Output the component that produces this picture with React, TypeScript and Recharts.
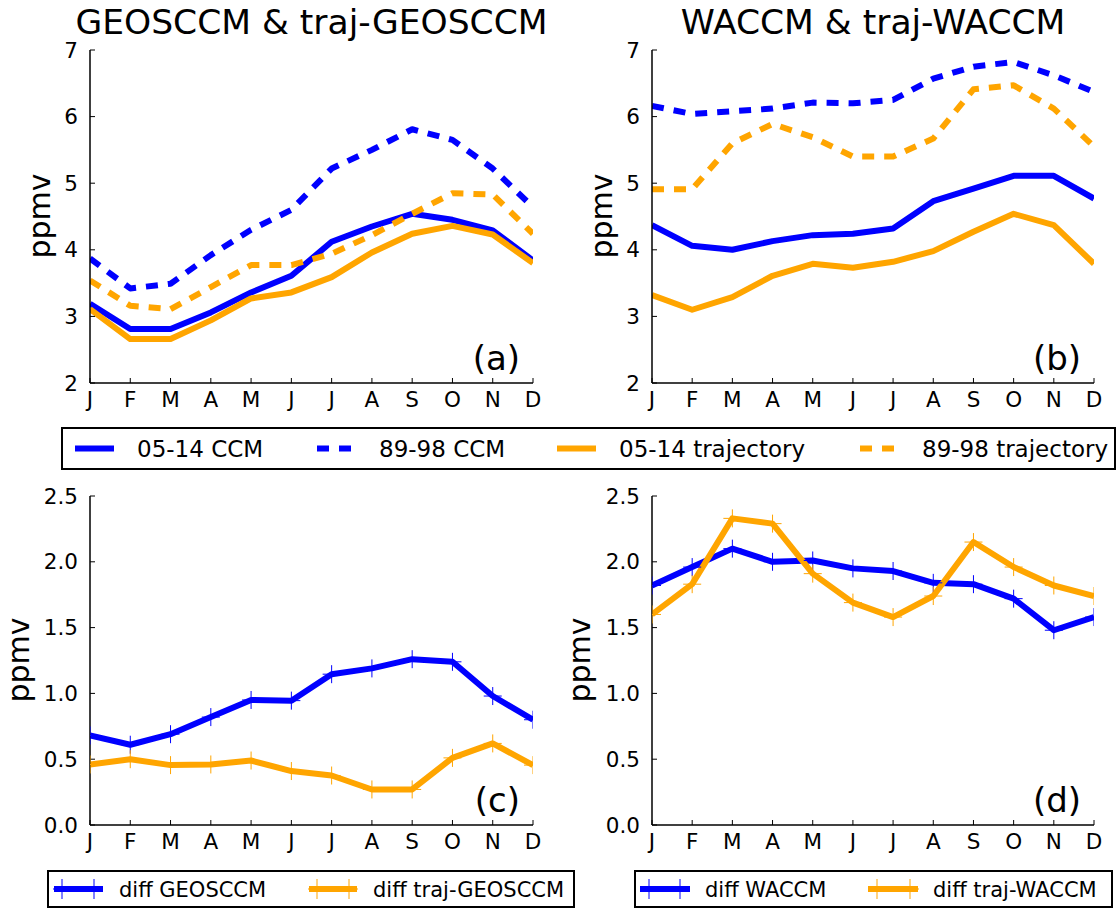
import React from "react";
import { LineChart, Line, XAxis, YAxis } from "recharts";

const FONT = '"DejaVu Sans", sans-serif';
const BLUE = "#0000ff";
const ORANGE = "#ffa500";
const DASH = "12 10";

const MONTHS = ["J", "F", "M", "A", "M", "J", "J", "A", "S", "O", "N", "D"];

// (a) GEOSCCM & traj-GEOSCCM
const geosCcm0514 = [3.19, 2.81, 2.81, 3.06, 3.36, 3.61, 4.12, 4.35, 4.54, 4.45, 4.29, 3.84];
const geosCcm8998 = [3.87, 3.42, 3.49, 3.92, 4.3, 4.6, 5.22, 5.5, 5.81, 5.65, 5.22, 4.64];
const geosTraj0514 = [3.11, 2.66, 2.66, 2.94, 3.27, 3.36, 3.59, 3.96, 4.24, 4.36, 4.23, 3.8];
const geosTraj8998 = [3.54, 3.16, 3.11, 3.44, 3.77, 3.77, 3.94, 4.22, 4.54, 4.85, 4.83, 4.24];

// (b) WACCM & traj-WACCM
const waccmCcm0514 = [4.37, 4.06, 4.0, 4.13, 4.22, 4.24, 4.32, 4.73, 4.92, 5.11, 5.11, 4.77];
const waccmCcm8998 = [6.16, 6.04, 6.08, 6.12, 6.21, 6.2, 6.25, 6.57, 6.75, 6.82, 6.62, 6.37];
const waccmTraj0514 = [3.32, 3.1, 3.29, 3.61, 3.79, 3.73, 3.82, 3.98, 4.27, 4.54, 4.37, 3.79];
const waccmTraj8998 = [4.91, 4.91, 5.6, 5.89, 5.69, 5.4, 5.4, 5.67, 6.41, 6.47, 6.12, 5.55];

// (c) and (d) differences
const diffGeos = [0.68, 0.61, 0.69, 0.82, 0.95, 0.945, 1.146, 1.19, 1.26, 1.24, 0.98, 0.8];
const diffTrajGeos = [0.46, 0.5, 0.455, 0.46, 0.49, 0.41, 0.376, 0.27, 0.27, 0.51, 0.62, 0.455];
const diffWaccm = [1.82, 1.96, 2.1, 2.0, 2.01, 1.95, 1.93, 1.84, 1.83, 1.72, 1.48, 1.58];
const diffTrajWaccm = [1.6, 1.83, 2.33, 2.29, 1.91, 1.69, 1.58, 1.74, 2.15, 1.96, 1.82, 1.74];

const MONTH_TICKS = MONTHS.map((_, i) => i);
const CONC_TICKS = [2, 3, 4, 5, 6, 7];
const DIFF_TICKS = [0, 0.5, 1, 1.5, 2, 2.5];

type Series = {
  name: string;
  values: number[];
  color: string;
  dashed?: boolean;
  plus?: boolean;
};

const makeRows = (series: Series[]) =>
  MONTHS.map((m, i) => {
    const row: Record<string, number | string> = { i, month: m };
    series.forEach((s) => {
      row[s.name] = s.values[i];
    });
    return row;
  });

const plusDot = (color: string) => (props: any) => {
  const { cx, cy, index } = props;
  if (cx == null || cy == null) return <g key={`p-${index}`} />;
  return (
    <g key={`p-${index}`}>
      <line x1={cx - 9} x2={cx + 9} y1={cy} y2={cy} stroke={color} strokeWidth={1} />
      <line x1={cx} x2={cx} y1={cy - 9} y2={cy + 9} stroke={color} strokeWidth={1} />
    </g>
  );
};

const tickStyle = { fill: "#000", fontSize: 21.5, fontFamily: FONT };
const frame = { stroke: "#000", strokeWidth: 1.5 };
const tickLn = { stroke: "#000", strokeWidth: 1 };

function Panel(props: {
  left: number;
  top: number;
  width: number;
  height: number;
  margin: { top: number; right: number; bottom: number; left: number };
  series: Series[];
  yDomain: [number, number];
  yTicks: number[];
  yFmt: (v: number) => string;
}) {
  const { left, top, width, height, margin, series, yDomain, yTicks, yFmt } = props;
  const rows = makeRows(series);
  return (
    <div style={{ position: "absolute", left, top, width, height }}>
      <LineChart width={width} height={height} data={rows} margin={margin}>
        <XAxis
          xAxisId="b"
          dataKey="i"
          type="number"
          domain={[0, 11]}
          ticks={MONTH_TICKS}
          interval={0}
          allowDataOverflow
          tickFormatter={(v: number) => MONTHS[v]}
          height={30}
          tickSize={-5}
          tickMargin={14}
          axisLine={frame}
          tickLine={tickLn}
          tick={tickStyle}
        />
        <XAxis
          xAxisId="t"
          orientation="top"
          dataKey="i"
          type="number"
          domain={[0, 11]}
          ticks={MONTH_TICKS}
          interval={0}
          allowDataOverflow
          height={0}
          tickSize={-5}
          axisLine={frame}
          tickLine={tickLn}
          tick={false}
        />
        <YAxis
          yAxisId="l"
          type="number"
          domain={yDomain}
          ticks={yTicks}
          interval={0}
          allowDataOverflow
          tickFormatter={yFmt}
          width={80}
          tickSize={-5}
          tickMargin={17}
          axisLine={frame}
          tickLine={tickLn}
          tick={tickStyle}
        />
        <YAxis
          yAxisId="r"
          orientation="right"
          type="number"
          domain={yDomain}
          ticks={yTicks}
          interval={0}
          allowDataOverflow
          width={0}
          tickSize={-5}
          axisLine={frame}
          tickLine={tickLn}
          tick={false}
        />
        {series.map((s) => (
          <Line
            key={s.name}
            xAxisId="b"
            yAxisId="l"
            type="linear"
            dataKey={s.name}
            stroke={s.color}
            strokeWidth={6}
            strokeDasharray={s.dashed ? DASH : undefined}
            strokeLinejoin="round"
            dot={s.plus ? plusDot(s.color) : false}
            activeDot={false}
            isAnimationActive={false}
          />
        ))}
      </LineChart>
    </div>
  );
}

const concFmt = (v: number) => String(v);
const diffFmt = (v: number) => v.toFixed(1);

function PlusMark({ x, y, color }: { x: number; y: number; color: string }) {
  return (
    <g>
      <line x1={x - 9} x2={x + 9} y1={y} y2={y} stroke={color} strokeWidth={1} />
      <line x1={x} x2={x} y1={y - 10} y2={y + 10} stroke={color} strokeWidth={1} />
    </g>
  );
}

export default function App() {
  const topLegend = [
    { label: "05-14 CCM", color: BLUE, dashed: false, x: 137 },
    { label: "89-98 CCM", color: BLUE, dashed: true, x: 379 },
    { label: "05-14 trajectory", color: ORANGE, dashed: false, x: 619 },
    { label: "89-98 trajectory", color: ORANGE, dashed: true, x: 922 },
  ];
  const diffLegends = [
    { label: "diff GEOSCCM", color: BLUE, x0: 54, x1: 103, m: [62, 94], tx: 119 },
    { label: "diff traj-GEOSCCM", color: ORANGE, x0: 309, x1: 357, m: [317, 349], tx: 373 },
    { label: "diff WACCM", color: BLUE, x0: 640, x1: 690, m: [649, 680], tx: 705 },
    { label: "diff traj-WACCM", color: ORANGE, x0: 868, x1: 918, m: [877, 910], tx: 933 },
  ];

  return (
    <div style={{ position: "absolute", left: 0, top: 0, width: 1120, height: 909, background: "#fff" }}>
      <Panel
        left={0}
        top={0}
        width={560}
        height={420}
        margin={{ top: 50, right: 27, bottom: 7, left: 10 }}
        yDomain={[2, 7]}
        yTicks={CONC_TICKS}
        yFmt={concFmt}
        series={[
          { name: "ccm0514", values: geosCcm0514, color: BLUE },
          { name: "ccm8998", values: geosCcm8998, color: BLUE, dashed: true },
          { name: "traj0514", values: geosTraj0514, color: ORANGE },
          { name: "traj8998", values: geosTraj8998, color: ORANGE, dashed: true },
        ]}
      />
      <Panel
        left={560}
        top={0}
        width={560}
        height={420}
        margin={{ top: 50, right: 26, bottom: 7, left: 12 }}
        yDomain={[2, 7]}
        yTicks={CONC_TICKS}
        yFmt={concFmt}
        series={[
          { name: "ccm0514", values: waccmCcm0514, color: BLUE },
          { name: "ccm8998", values: waccmCcm8998, color: BLUE, dashed: true },
          { name: "traj0514", values: waccmTraj0514, color: ORANGE },
          { name: "traj8998", values: waccmTraj8998, color: ORANGE, dashed: true },
        ]}
      />
      <Panel
        left={0}
        top={420}
        width={560}
        height={489}
        margin={{ top: 76, right: 27, bottom: 54, left: 10 }}
        yDomain={[0, 2.5]}
        yTicks={DIFF_TICKS}
        yFmt={diffFmt}
        series={[
          { name: "diff", values: diffGeos, color: BLUE, plus: true },
          { name: "difftraj", values: diffTrajGeos, color: ORANGE, plus: true },
        ]}
      />
      <Panel
        left={560}
        top={420}
        width={560}
        height={489}
        margin={{ top: 76, right: 26, bottom: 54, left: 12 }}
        yDomain={[0, 2.5]}
        yTicks={DIFF_TICKS}
        yFmt={diffFmt}
        series={[
          { name: "diff", values: diffWaccm, color: BLUE, plus: true },
          { name: "difftraj", values: diffTrajWaccm, color: ORANGE, plus: true },
        ]}
      />

      <svg
        width={1120}
        height={909}
        style={{ position: "absolute", left: 0, top: 0, pointerEvents: "none" }}
        fontFamily={FONT}
      >
        <text x={311.5} y={34} fontSize={34.5} textAnchor="middle">GEOSCCM &amp; traj-GEOSCCM</text>
        <text x={873} y={34} fontSize={34.5} textAnchor="middle">WACCM &amp; traj-WACCM</text>

        <text transform="translate(50,216) rotate(-90)" fontSize={30} textAnchor="middle">ppmv</text>
        <text transform="translate(612,216) rotate(-90)" fontSize={30} textAnchor="middle">ppmv</text>
        <text transform="translate(29,660) rotate(-90)" fontSize={30} textAnchor="middle">ppmv</text>
        <text transform="translate(590,660) rotate(-90)" fontSize={30} textAnchor="middle">ppmv</text>

        <text x={520} y={370} fontSize={34} textAnchor="end">(a)</text>
        <text x={1081} y={370} fontSize={34} textAnchor="end">(b)</text>
        <text x={520} y={812} fontSize={34} textAnchor="end">(c)</text>
        <text x={1081} y={812} fontSize={34} textAnchor="end">(d)</text>

        <rect x={62} y={428} width={1053} height={41} fill="#fff" stroke="#000" strokeWidth={2} />
        {topLegend.map((it) => (
          <g key={it.label}>
            <line
              x1={it.x - 62}
              x2={it.x - 23}
              y1={448.5}
              y2={448.5}
              stroke={it.color}
              strokeWidth={6}
              strokeDasharray={it.dashed ? DASH : undefined}
            />
            <text x={it.x} y={457} fontSize={23}>{it.label}</text>
          </g>
        ))}

        <rect x={48} y={871} width={526} height={36} fill="#fff" stroke="#000" strokeWidth={2} />
        <rect x={635} y={871} width={477} height={36} fill="#fff" stroke="#000" strokeWidth={2} />
        {diffLegends.map((it) => (
          <g key={it.label}>
            <line x1={it.x0} x2={it.x1} y1={889} y2={889} stroke={it.color} strokeWidth={6} />
            {it.m.map((mx) => (
              <PlusMark key={mx} x={mx} y={889} color={it.color} />
            ))}
            <text x={it.tx} y={897} fontSize={21}>{it.label}</text>
          </g>
        ))}
      </svg>
    </div>
  );
}
